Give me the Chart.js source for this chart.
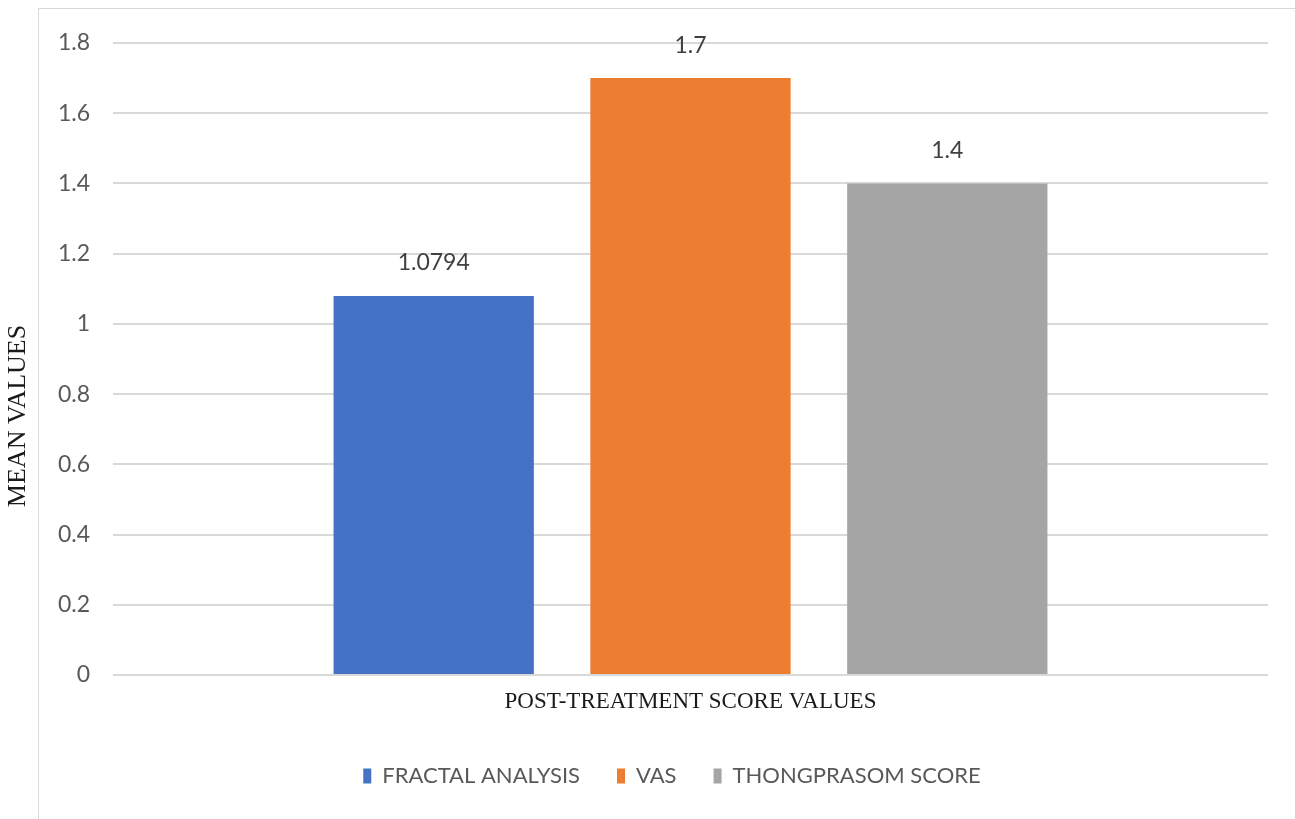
<!DOCTYPE html>
<html>
<head>
<meta charset="utf-8">
<script src="https://cdn.jsdelivr.net/npm/chart.js@4.4.1/dist/chart.umd.min.js"></script>
<style>
  html, body { margin: 0; padding: 0; background: #fff; }
  #wrap { position: relative; width: 1295px; height: 819px; }
  #frame {
    position: absolute; left: 38px; top: 8px; right: -2px; bottom: -2px;
    border-top: 1px solid #d9d9d9; border-left: 1px solid #d9d9d9;
  }
  canvas { position: absolute; left: 0; top: 0; }
</style>
</head>
<body>
<div id="wrap">
  <div id="frame"></div>
  <canvas id="chart" width="1295" height="819"></canvas>
</div>
<script>
const categories = [''];
const seriesNames = ['FRACTAL ANALYSIS', 'VAS', 'THONGPRASOM SCORE'];
const seriesValues = [[1.0794], [1.7], [1.4]];
const seriesColors = ['#4472C4', '#ED7D31', '#A5A5A5'];
const valueLabels = ['1.0794', '1.7', '1.4'];
const yTitle = 'MEAN VALUES';
const xTitle = 'POST-TREATMENT SCORE VALUES';

const tickFont = { family: 'Lato', size: 23 };

// prints each bar's value just above it
const barValues = {
  id: 'barValues',
  afterDatasetsDraw(chart) {
    const ctx = chart.ctx;
    ctx.save();
    ctx.font = '23px Lato';
    ctx.fillStyle = '#404040';
    ctx.textAlign = 'center';
    ctx.textBaseline = 'middle';
    chart.data.datasets.forEach((ds, i) => {
      const bar = chart.getDatasetMeta(i).data[0];
      ctx.fillText(valueLabels[i], bar.x, bar.y - 33);
    });
    ctx.restore();
  }
};

// vertical axis title, centred on the whole figure rather than the plot
const sideTitle = {
  id: 'sideTitle',
  afterDraw(chart) {
    const ctx = chart.ctx;
    ctx.save();
    ctx.translate(18, 416);
    ctx.rotate(-Math.PI / 2);
    ctx.font = '26px "Liberation Serif"';
    ctx.fillStyle = '#1a1a1a';
    ctx.textAlign = 'center';
    ctx.textBaseline = 'middle';
    ctx.fillText(yTitle, 0, 0);
    ctx.restore();
  }
};

// legend row is centred inside the framed box, not the full canvas
const legendShift = {
  id: 'legendShift',
  afterLayout(chart) {
    chart.legend.left = 76;
  }
};

new Chart(document.getElementById('chart'), {
  type: 'bar',
  data: {
    labels: categories,
    datasets: seriesNames.map((name, i) => ({
      label: name,
      data: seriesValues[i],
      backgroundColor: seriesColors[i],
      categoryPercentage: 0.667,
      barPercentage: 0.78
    }))
  },
  options: {
    responsive: false,
    animation: false,
    layout: { padding: { left: 0, right: 27, top: 43, bottom: 22 } },
    plugins: {
      legend: {
        position: 'bottom',
        labels: {
          font: { family: 'Lato', size: 22 },
          color: '#595959',
          boxWidth: 8,
          boxHeight: 15,
          padding: 37
        }
      },
      tooltip: { enabled: false }
    },
    scales: {
      x: {
        grid: { display: false },
        border: { display: false },
        ticks: { display: false },
        title: {
          display: true,
          text: xTitle,
          font: { family: 'Liberation Serif', size: 23 },
          color: '#1a1a1a',
          padding: { top: 0, bottom: 12 }
        },
        afterFit(s) { s.height = 53; }
      },
      y: {
        min: 0,
        max: 1.8,
        ticks: {
          stepSize: 0.2,
          padding: 23,
          font: tickFont,
          color: '#595959',
          callback: v => String(+v.toFixed(1))
        },
        grid: { color: '#d9d9d9', lineWidth: 2, drawTicks: false },
        border: { display: false },
        afterFit(s) { s.width = 113; }
      }
    }
  },
  plugins: [barValues, sideTitle, legendShift]
});
</script>
</body>
</html>
